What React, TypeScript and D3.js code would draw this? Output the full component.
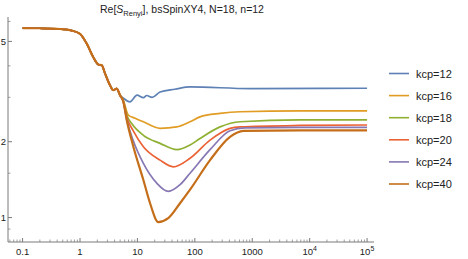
import React from 'react';
import * as d3 from 'd3';

// shared early-time part of every curve (t, value)
const commonT = [0.1, 0.2, 0.45, 0.7, 1, 1.31, 1.7, 2.08, 2.39, 2.73, 3.33, 3.8, 4.36, 4.97];
const commonV = [5.65, 5.64, 5.6, 5.53, 5.36, 4.9, 4.33, 4.05, 4.02, 3.73, 3.35, 3.2, 3.25, 3.06];

const labels = ['kcp=12', 'kcp=16', 'kcp=18', 'kcp=20', 'kcp=24', 'kcp=40'];
const colors = ['#5E81B5', '#E19C24', '#8FB032', '#EB6235', '#8778B3', '#C56E1A'];

const kcp12T = [5.68, 7.43, 9.84, 12.7, 14.5, 18, 24.8, 45, 82.5, 916, 1e5];
const kcp12V = [2.98, 2.88, 3.06, 2.99, 3.05, 3.0, 3.15, 3.23, 3.3, 3.25, 3.26];
const kcp16T = [5.68, 6.94, 9.1, 12.7, 24.8, 48.4, 82.5, 123, 275, 612, 6810, 1e5];
const kcp16V = [2.92, 2.55, 2.48, 2.4, 2.26, 2.29, 2.4, 2.51, 2.59, 2.63, 2.65, 2.65];
const kcp18T = [5.68, 6.51, 7.95, 12.7, 24.8, 48.4, 82.5, 123, 275, 612, 6810, 1e5];
const kcp18V = [2.9, 2.55, 2.36, 2.12, 1.97, 1.86, 1.94, 2.06, 2.29, 2.4, 2.44, 2.44];
const kcp20T = [5.68, 6.51, 8.38, 12.7, 24.8, 42.2, 82.5, 184, 410, 612, 6810, 1e5];
const kcp20V = [2.88, 2.5, 2.22, 1.91, 1.69, 1.59, 1.72, 2.03, 2.26, 2.29, 2.32, 2.33];
const kcp24T = [5.68, 6.51, 8.38, 12.7, 21.7, 34.5, 55.2, 82.5, 184, 410, 749, 6810, 1e5];
const kcp24V = [2.88, 2.45, 2.03, 1.64, 1.37, 1.27, 1.35, 1.5, 1.86, 2.21, 2.27, 2.28, 2.28];
const kcp40T = [5.68, 6.51, 8.5, 12.7, 16.6, 23.1, 34.5, 55.2, 82.5, 184, 410, 700, 6810, 1e5];
const kcp40V = [2.88, 2.44, 1.91, 1.41, 1.14, 0.96, 0.995, 1.14, 1.29, 1.69, 2.09, 2.21, 2.22, 2.22];

const seriesT = [kcp12T, kcp16T, kcp18T, kcp20T, kcp24T, kcp40T];
const seriesV = [kcp12V, kcp16V, kcp18V, kcp20V, kcp24V, kcp40V];

const xMajor = [0.1, 1, 10, 100, 1000, 1e4, 1e5];
const yMajor = [1, 2, 5];
const yMinor = [0.9, 1.5, 3, 4, 6];

export default function App() {
  const x = d3.scaleLog().domain([0.0557, 1.32e5]).range([8, 374]);
  const y = d3.scaleLog().domain([0.8, 6.25]).range([242, 17]);

  const line = d3
    .line<[number, number]>()
    .x((d) => x(d[0]))
    .y((d) => y(d[1]))
    .curve(d3.curveMonotoneX);

  const xMinor: number[] = [];
  for (let e = -2; e <= 5; e++) {
    for (let m = 2; m <= 9; m++) {
      const v = m * Math.pow(10, e);
      if (v > 0.0557 && v < 1.32e5) xMinor.push(v);
    }
  }

  const axisColor = '#7a7a7a';
  const font = '"Liberation Sans", Arial, sans-serif';

  return (
    <svg
      width={468}
      height={259}
      style={{ position: 'absolute', left: 0, top: 0, background: '#fff' }}
      fontFamily={font}
    >
      <text x={100} y={13} fontSize={10.5} fill="#222">
        Re[<tspan fontStyle="italic">S</tspan>
        <tspan fontSize={7.5} dy={2.5}>Renyi</tspan>
        <tspan dy={-2.5}>], bsSpinXY4, N=18, n=12</tspan>
      </text>

      {/* axes */}
      <line x1={8} x2={374} y1={242} y2={242} stroke={axisColor} strokeWidth={1} />
      <line x1={8} x2={8} y1={17} y2={242} stroke={axisColor} strokeWidth={1} />

      {xMajor.map((t) => (
        <line key={'xM' + t} x1={x(t)} x2={x(t)} y1={242} y2={238} stroke={axisColor} />
      ))}
      {xMinor.map((t) => (
        <line key={'xm' + t} x1={x(t)} x2={x(t)} y1={242} y2={239.5} stroke={axisColor} strokeWidth={0.7} />
      ))}
      {xMajor.map((t) => {
        const e = Math.round(Math.log10(t));
        const px = x(t);
        if (e >= 4) {
          return (
            <text key={'xl' + t} x={px} y={255} fontSize={9.5} textAnchor="middle" fill="#222">
              10<tspan fontSize={7} dy={-4}>{e}</tspan>
            </text>
          );
        }
        return (
          <text key={'xl' + t} x={px} y={255} fontSize={9.5} textAnchor="middle" fill="#222">
            {t < 1 ? '0.1' : String(t)}
          </text>
        );
      })}

      {yMajor.map((v) => (
        <g key={'yM' + v}>
          <line x1={8} x2={12} y1={y(v)} y2={y(v)} stroke={axisColor} />
          <text x={6} y={y(v) + 3.3} fontSize={9.5} textAnchor="end" fill="#222">
            {v}
          </text>
        </g>
      ))}
      {yMinor.map((v) => (
        <line key={'ym' + v} x1={8} x2={10.5} y1={y(v)} y2={y(v)} stroke={axisColor} strokeWidth={0.7} />
      ))}

      {/* curves */}
      {seriesT.map((ts, i) => {
        const pts: [number, number][] = commonT.map((t, j) => [t, commonV[j]] as [number, number]);
        ts.forEach((t, j) => pts.push([t, seriesV[i][j]]));
        return (
          <path
            key={labels[i]}
            d={line(pts) || ''}
            fill="none"
            stroke={colors[i]}
            strokeWidth={i === 5 ? 2.2 : 1.7}
            strokeLinejoin="round"
          />
        );
      })}

      {/* legend */}
      {labels.map((l, i) => (
        <g key={'lg' + l} transform={`translate(389, ${73.5 + i * 22.1})`}>
          <line x1={0} x2={20} y1={0} y2={0} stroke={colors[i]} strokeWidth={1.6} />
          <text x={27} y={4} fontSize={11} fill="#222">
            {l}
          </text>
        </g>
      ))}
    </svg>
  );
}
